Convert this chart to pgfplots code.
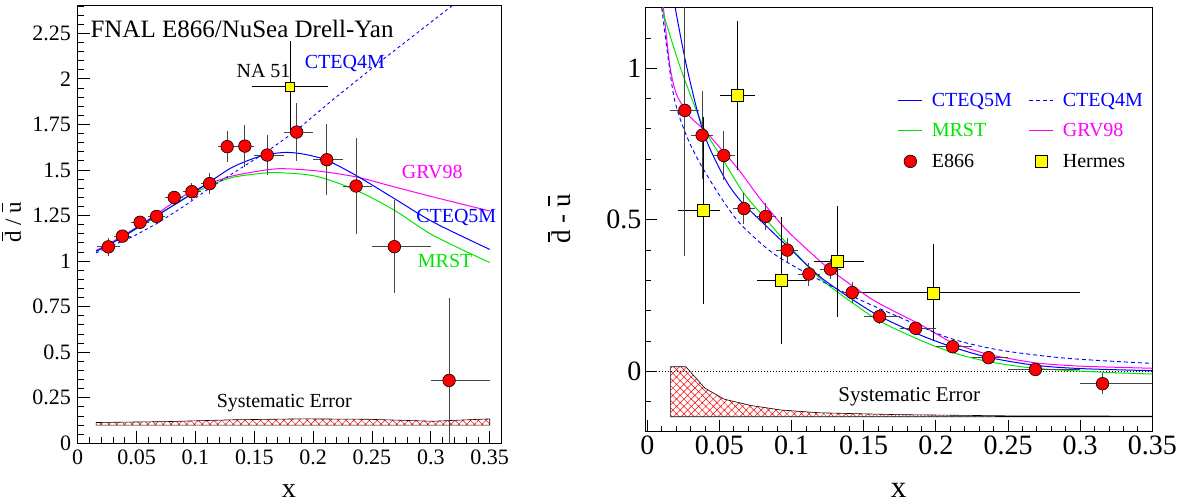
\documentclass[border=0pt]{standalone}
\usepackage{fontspec}
\setmainfont{Liberation Serif}
\usepackage{pgfplots}
\pgfplotsset{compat=1.18}
\usepackage{pgfplotstable}
\usetikzlibrary{patterns.meta}

\newcommand\barletter[1]{\ooalign{#1\cr\hidewidth\raisebox{0.76em}{\rule{0.40em}{0.05em}}\hidewidth\cr}}

\definecolor{rblue}{RGB}{0,0,255}
\definecolor{rgreen}{RGB}{0,230,0}
\definecolor{rmag}{RGB}{255,0,255}
\definecolor{rred}{RGB}{255,0,0}
\definecolor{ryel}{RGB}{255,255,0}
\definecolor{errg}{RGB}{70,70,70}

% E866: x, ratio, ratio err, difference, difference err, x err minus/plus
\pgfplotstableread{
x      yr     er     yd      ed     exm     exp
0.026  1.078  0.050  0.861   0.480  0.0100  0.0100
0.038  1.137  0.035  0.779   0.146  0.0075  0.0075
0.053  1.213  0.034  0.712   0.080  0.0075  0.0075
0.067  1.245  0.035  0.537   0.050  0.0075  0.0075
0.082  1.349  0.036  0.511   0.045  0.0075  0.0075
0.097  1.381  0.048  0.400   0.040  0.0075  0.0075
0.112  1.425  0.059  0.321   0.038  0.0075  0.0075
0.127  1.628  0.084  0.337   0.033  0.0075  0.0075
0.142  1.631  0.116  0.260   0.036  0.0075  0.0075
0.161  1.582  0.112  0.181   0.025  0.0110  0.0140
0.186  1.708  0.158  0.142   0.020  0.0110  0.0140
0.2116 1.556  0.195  0.081   0.015  0.0116  0.0134
0.2365 1.412  0.263  0.045   0.012  0.0115  0.0135
0.269  1.079  0.255  0.006   0.010  0.0190  0.0310
0.3155 0.345  0.454  -0.041  0.034  0.0155  0.0345
}\eeight

% Hermes: x, y, x err minus/plus, stat, total
\pgfplotstableread{
x       y      exm     exp     es     et
0.0388  0.530  0.0178  0.0116  0.21   0.289
0.0626  0.910  0.0120  0.0120  0.17   0.227
0.0927  0.301  0.0170  0.0180  0.14   0.190
0.1317  0.362  0.0160  0.0185  0.13   0.163
0.1982  0.259  0.0520  0.1020  0.11   0.140
}\hermes

\pgfplotsset{
  rootax/.style={
    scale only axis, anchor=south west,
    tick pos=left, tick align=inside,
    scaled ticks=false,
    /pgf/number format/fixed,
    /pgf/number format/precision=2,
    /pgf/number format/assume math mode=true,
    axis line style={black, line width=1pt},
    every tick/.style={black, line width=0.8pt},
    major tick length=12pt, minor tick length=6pt,
    legend image code/.code={\path (0pt,0pt) (31pt,0pt); \draw[##1] (0pt,0pt) -- (24pt,0pt);},
  },
  e866mark/.style={only marks, mark=*, mark size=6.3pt,
    mark options={fill=rred, draw=black, line width=0.6pt, solid}},
  markleg/.style={legend image code/.code={\path (0pt,0pt) (31pt,0pt); \draw[##1] plot coordinates {(12pt,0pt)};}},
}

\begin{document}
\begin{tikzpicture}

%================ LEFT: ratio =================
\begin{axis}[rootax,
  at={(77.7pt,58.7pt)}, width=423.3pt, height=437.3pt,
  xmin=0, xmax=0.3596, ymin=0, ymax=2.4,
  xtick={0,0.05,0.1,0.15,0.2,0.25,0.3,0.35},
  ytick={0,0.25,0.5,0.75,1,1.25,1.5,1.75,2,2.25},
  minor xtick={0,0.01,...,0.36},
  minor ytick={0,0.05,...,2.4},
  tick label style={font=\fontsize{22}{26}\selectfont},
  yticklabel style={inner sep=6.5pt},
  xticklabel style={inner sep=6pt},
  xlabel={x},
  xlabel style={font=\fontsize{28}{32}\selectfont, at={(axis description cs:0.499,0)}, anchor=base, yshift=-54pt},
  ylabel={\barletter{d} / \barletter{u}},
  ylabel style={font=\fontsize{23}{27}\selectfont, at={(axis description cs:-0.153,0.506)}, anchor=center},
]
% systematic error band
\addplot[draw=black, line width=0.6pt, pattern={Hatch[angle=45,distance=5.5pt,line width=0.5pt]}, pattern color=rred]
  coordinates {(0.0156,0.100) (0.0156,0.114) (0.0756,0.119) (0.132,0.129) (0.189,0.134) (0.2455,0.132) (0.302,0.121) (0.35,0.134) (0.35,0.100)} -- cycle;

% PDF curves
\addplot[rmag, line width=1pt, smooth] coordinates {
 (0.0156,1.058) (0.040,1.145) (0.067,1.258) (0.090,1.358) (0.112,1.425) (0.132,1.468)
 (0.160,1.500) (0.175,1.507) (0.203,1.495) (0.2365,1.462) (0.269,1.407) (0.302,1.352) (0.35,1.275)};
\addplot[rgreen, line width=1pt, smooth] coordinates {
 (0.0156,1.052) (0.040,1.138) (0.067,1.245) (0.090,1.343) (0.112,1.414) (0.132,1.460)
 (0.160,1.484) (0.175,1.484) (0.203,1.465) (0.2365,1.389) (0.269,1.279) (0.302,1.141) (0.35,0.992)};
\addplot[rblue, line width=1pt, smooth] coordinates {
 (0.0156,1.055) (0.0255,1.085) (0.040,1.140) (0.052,1.190) (0.067,1.250) (0.090,1.340) (0.112,1.434)
 (0.132,1.517) (0.155,1.575) (0.175,1.596) (0.192,1.587) (0.2116,1.553) (0.2365,1.470) (0.269,1.343) (0.302,1.214) (0.35,1.064)};
\addplot[rblue, line width=0.9pt, dash pattern=on 3pt off 3pt] coordinates {
 (0.0156,1.045) (0.047,1.135) (0.067,1.205) (0.090,1.300) (0.112,1.400) (0.135,1.495) (0.1606,1.600)
 (0.186,1.718) (0.217,1.887) (0.260,2.110) (0.319,2.406) (0.33,2.46)};

% NA51
\addplot[only marks, mark=square*, mark size=4.4pt, mark options={fill=ryel, draw=black, line width=0.6pt},
  error bars/.cd, x dir=both, x explicit, y dir=both, y explicit, error mark=none,
  error bar style={black, line width=1pt}]
  coordinates {(0.1804,1.957) +- (0.032,0.25)};

% E866
\addplot[e866mark,
  error bars/.cd, x dir=both, x explicit, y dir=both, y explicit, error mark=none,
  error bar style={errg, line width=1pt}]
  table[x=x, y=yr, x error minus=exm, x error plus=exp, y error=er] {\eeight};

\node[anchor=base west, font=\fontsize{25}{30}\selectfont] at (axis cs:0.0079,2.228) {FNAL E866/NuSea Drell-Yan};
\node[anchor=base west, font=\fontsize{20}{24}\selectfont] at (axis cs:0.132,2.010) {NA 51};
\node[anchor=base west, font=\fontsize{20}{24}\selectfont, text=rblue] at (axis cs:0.190,2.058) {CTEQ4M};
\node[anchor=base west, font=\fontsize{20}{24}\selectfont, text=rmag] at (axis cs:0.2724,1.4545) {GRV98};
\node[anchor=base west, font=\fontsize{20}{24}\selectfont, text=rblue] at (axis cs:0.2846,1.211) {CTEQ5M};
\node[anchor=base west, font=\fontsize{20}{24}\selectfont, text=rgreen] at (axis cs:0.286,0.966) {MRST};
\node[anchor=base west, font=\fontsize{20}{24}\selectfont] at (axis cs:0.1152,0.1954) {Systematic Error};
\end{axis}

%================ RIGHT: difference =================
\begin{axis}[rootax,
  at={(645pt,70.1pt)}, width=507.3pt, height=424.2pt,
  xmin=-0.0016, xmax=0.35, ymin=-0.2, ymax=1.2,
  xtick={0,0.05,0.1,0.15,0.2,0.25,0.3,0.35},
  ytick={0,0.5,1},
  minor xtick={0,0.01,...,0.35},
  minor ytick={-0.2,-0.1,...,1.2},
  tick label style={font=\fontsize{28}{32}\selectfont},
  xlabel={x},
  xlabel style={font=\fontsize{31}{36}\selectfont, at={(axis description cs:0.4999,0)}, anchor=base, yshift=-65.5pt},
  ylabel={\barletter{d} - \barletter{u}},
  ylabel style={font=\fontsize{27}{32}\selectfont, at={(axis description cs:-0.1656,0.502)}, anchor=center},
  legend columns=2,
  legend cell align=left,
  legend style={draw=none, fill=none, inner sep=0pt,
    at={(axis cs:0.1735,0.945)}, anchor=north west,
    font=\fontsize{20}{24}\selectfont,
    nodes={minimum height=30.5pt},
    /tikz/every even column/.append style={column sep=15pt}},
]
% legend images
\addlegendimage{rblue, line width=1pt}
\addlegendentry{\textcolor{rblue}{CTEQ5M}}
\addlegendimage{rblue, line width=1pt, dash pattern=on 4pt off 3pt}
\addlegendentry{\textcolor{rblue}{CTEQ4M}}
\addlegendimage{rgreen, line width=1pt}
\addlegendentry{\textcolor{rgreen}{MRST}}
\addlegendimage{rmag, line width=1pt}
\addlegendentry{\textcolor{rmag}{GRV98}}
\addlegendimage{e866mark, markleg}
\addlegendentry{E866}
\addlegendimage{only marks, mark=square*, mark size=6pt, mark options={fill=ryel, draw=black, line width=0.6pt}, markleg}
\addlegendentry{Hermes}

% systematic error band
\addplot[forget plot, draw=black, line width=0.6pt, pattern={Hatch[angle=45,distance=5.2pt,line width=0.5pt]}, pattern color=rred]
  coordinates {(0.0162,-0.150) (0.0162,0.015) (0.0267,0.015) (0.040,-0.056) (0.0533,-0.092) (0.0719,-0.113)
   (0.0931,-0.128) (0.1197,-0.137) (0.1728,-0.143) (0.25,-0.147) (0.35,-0.148) (0.35,-0.150)} -- cycle;

% zero line
\addplot[forget plot, black, line width=0.8pt, dash pattern=on 1pt off 2pt] coordinates {(0.008,0) (0.35,0)};

% PDF curves
\addplot[forget plot, rmag, line width=1pt, smooth, tension=0.4] coordinates {
 (0.0111,1.203) (0.0157,1.005) (0.0204,0.912) (0.0296,0.840) (0.0388,0.800) (0.0527,0.725) (0.0642,0.660)
 (0.0781,0.570) (0.0966,0.466) (0.1243,0.345) (0.1566,0.235) (0.189,0.155) (0.2116,0.094) (0.2363,0.056)
 (0.2687,0.028) (0.30,0.017) (0.35,0.010)};
\addplot[forget plot, rgreen, line width=1pt, smooth] coordinates {
 (0.010,1.198) (0.0227,1.005) (0.0388,0.807) (0.0527,0.697) (0.0665,0.590) (0.0827,0.499) (0.0977,0.417)
 (0.1197,0.307) (0.1428,0.224) (0.1617,0.164) (0.189,0.103) (0.2116,0.062) (0.2363,0.032) (0.2687,0.010)
 (0.3155,-0.003) (0.35,-0.009)};
\addplot[forget plot, rblue, line width=1pt, smooth] coordinates {
 (0.0192,1.203) (0.0273,1.005) (0.0388,0.790) (0.0527,0.645) (0.0642,0.565) (0.0827,0.478) (0.0977,0.410)
 (0.1197,0.312) (0.1428,0.235) (0.1617,0.180) (0.189,0.120) (0.2116,0.080) (0.2363,0.046) (0.2687,0.020)
 (0.30,0.009) (0.35,0.002)};
\addplot[forget plot, rblue, line width=0.9pt, dash pattern=on 4pt off 3pt, smooth] coordinates {
 (0.010,1.200) (0.018,0.917) (0.0261,0.790) (0.0353,0.697) (0.0492,0.587) (0.0642,0.488) (0.0873,0.389)
 (0.1127,0.318) (0.1428,0.246) (0.175,0.178) (0.2098,0.109) (0.2444,0.070) (0.2906,0.043) (0.35,0.026)};

% Hermes error bars: x, total, stat
\addplot[forget plot, only marks, mark=none,
  error bars/.cd, x dir=both, x explicit, error mark=none, error bar style={black, line width=1pt}]
  table[x=x, y=y, x error minus=exm, x error plus=exp] {\hermes};
\addplot[forget plot, only marks, mark=none,
  error bars/.cd, y dir=both, y explicit, error mark=-, error mark options={black, line width=1pt, mark size=6pt},
  error bar style={black, line width=1pt}]
  table[x=x, y=y, y error=et] {\hermes};
\addplot[forget plot, only marks, mark=none,
  error bars/.cd, y dir=both, y explicit, error mark=-, error mark options={black, line width=1pt, mark size=6pt},
  error bar style={black, line width=1pt}]
  table[x=x, y=y, y error=es] {\hermes};

% E866
\addplot[forget plot, e866mark,
  error bars/.cd, x dir=both, x explicit, y dir=both, y explicit, error mark=none,
  error bar style={errg, line width=1pt}]
  table[x=x, y=yd, x error minus=exm, x error plus=exp, y error=ed] {\eeight};

% Hermes markers
\addplot[forget plot, only marks, mark=square*, mark size=6pt, mark options={fill=ryel, draw=black, line width=0.6pt}]
  table[x=x, y=y] {\hermes};

\node[anchor=base west, font=\fontsize{21}{25}\selectfont] at (axis cs:0.130,-0.100) {Systematic Error};
\end{axis}

\pgfresetboundingbox
\path (0pt,0pt) rectangle (1191pt,502pt);
\end{tikzpicture}
\end{document}
